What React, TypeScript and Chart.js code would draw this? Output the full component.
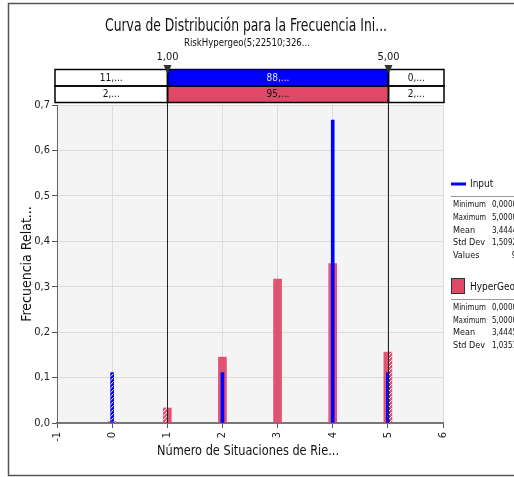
import React, { useEffect, useRef } from 'react';
import { Chart, registerables } from 'chart.js';

Chart.register(...registerables);

// ---------- data ----------
const categories = [0, 1, 2, 3, 4, 5];
const hyperGeoValues = [0.003, 0.033, 0.145, 0.317, 0.351, 0.156];
const inputValues = [0.111, 0, 0.111, 0, 0.667, 0.111];
const xMin = -1;
const xMax = 6;
const yMax = 0.7;
const yStep = 0.1;
const delimiters = [1, 5];
const delimiterLabels = ['1,00', '5,00'];
const inputBandLabels = ['11,...', '88,...', '0,...'];
const hyperGeoBandLabels = ['2,...', '95,...', '2,...'];
const inputStatNames = ['Minimum', 'Maximum', 'Mean', 'Std Dev', 'Values'];
const inputStatValues = ['0,0000', '5,0000', '3,4444', '1,5092', '9'];
const hyperGeoStatNames = ['Minimum', 'Maximum', 'Mean', 'Std Dev'];
const hyperGeoStatValues = ['0,0000', '5,0000', '3,4445', '1,0351'];
const titleText = 'Curva de Distribución para la Frecuencia Ini...';
const subtitleText = 'RiskHypergeo(5;22510;326...';
const xTitleText = 'Número de Situaciones de Rie...';
const yTitleText = 'Frecuencia Relat...';
const inputName = 'Input';
const hyperGeoName = 'HyperGeo';

const FONT = '"DejaVu Sans Condensed", "Liberation Sans Narrow", "DejaVu Sans", sans-serif';
const BLUE = '#0000ff';
const PINK = '#e04868';

function hatchRect(ctx: CanvasRenderingContext2D, l: number, t: number, r: number, b: number) {
  if (r - l <= 0.2 || b - t <= 0.2) return;
  ctx.save();
  ctx.beginPath();
  ctx.rect(l, t, r - l, b - t);
  ctx.clip();
  ctx.strokeStyle = 'rgba(255,255,255,0.95)';
  ctx.lineWidth = 1;
  ctx.beginPath();
  const h = b - t;
  for (let k = -h - 8; k < r - l + 8; k += 4) {
    ctx.moveTo(l + k, b);
    ctx.lineTo(l + k + h, t);
  }
  ctx.stroke();
  ctx.restore();
}

const decorPlugin = {
  id: 'decor',
  beforeDraw(chart: any) {
    const { ctx, chartArea: ca, width, height } = chart;
    ctx.save();
    ctx.fillStyle = '#ffffff';
    ctx.fillRect(0, 0, width, height);
    ctx.fillStyle = '#f4f4f4';
    ctx.fillRect(ca.left, ca.top, ca.right - ca.left, ca.bottom - ca.top);
    ctx.restore();
  },
  afterDatasetsDraw(chart: any) {
    const { ctx, chartArea: ca } = chart;
    const xs = chart.scales.x;
    const d0 = xs.getPixelForValue(delimiters[0]);
    const d1 = xs.getPixelForValue(delimiters[1]);
    const regions = [
      [ca.left, d0],
      [d1, ca.right],
    ];
    chart.data.datasets.forEach((_ds: any, i: number) => {
      const meta = chart.getDatasetMeta(i);
      meta.data.forEach((el: any) => {
        const { x, y, base, width } = el.getProps(['x', 'y', 'base', 'width'], true);
        const l = x - width / 2;
        const r = x + width / 2;
        regions.forEach(([a, b]) => {
          hatchRect(ctx, Math.max(l, a), Math.min(y, base), Math.min(r, b), Math.max(y, base));
        });
      });
    });
  },
  afterDraw(chart: any) {
    const { ctx, chartArea: ca } = chart;
    const xs = chart.scales.x;
    const d0 = xs.getPixelForValue(delimiters[0]);
    const d1 = xs.getPixelForValue(delimiters[1]);
    ctx.save();

    // outer frame
    ctx.strokeStyle = '#555';
    ctx.lineWidth = 1.5;
    ctx.strokeRect(8.5, 3.5, 530, 472);

    // titles
    ctx.fillStyle = '#111';
    ctx.textAlign = 'center';
    ctx.textBaseline = 'middle';
    ctx.font = `17px ${FONT}`;
    ctx.fillText(titleText, 246, 27, 282);
    ctx.font = `11px ${FONT}`;
    ctx.fillText(subtitleText, 247, 43, 126);

    // axis titles
    ctx.font = `14px ${FONT}`;
    ctx.fillText(xTitleText, 248, 451, 182);
    ctx.save();
    ctx.translate(27, (ca.top + ca.bottom) / 2);
    ctx.rotate(-Math.PI / 2);
    ctx.fillText(yTitleText, 0, 0, 126);
    ctx.restore();

    // delimiter vertical lines
    ctx.strokeStyle = '#222';
    ctx.lineWidth = 1;
    [d0, d1].forEach((px) => {
      const p = Math.round(px) + 0.5;
      ctx.beginPath();
      ctx.moveTo(p, 69);
      ctx.lineTo(p, ca.bottom);
      ctx.stroke();
    });

    // bands
    const xL = ca.left - 2;
    const xR = ca.right + 1;
    const rows = [
      { top: 69.5, bot: 86, fills: ['#ffffff', BLUE, '#ffffff'], labels: inputBandLabels, tcol: ['#111', '#e4e4ff', '#111'] },
      { top: 86, bot: 102.5, fills: ['#ffffff', PINK, '#ffffff'], labels: hyperGeoBandLabels, tcol: ['#111', '#111', '#111'] },
    ];
    const edges = [xL, Math.round(d0) + 0.5, Math.round(d1) + 0.5, xR];
    ctx.font = `10px ${FONT}`;
    rows.forEach((row) => {
      for (let k = 0; k < 3; k++) {
        const a = edges[k];
        const b = edges[k + 1];
        ctx.fillStyle = row.fills[k];
        ctx.fillRect(a, row.top, b - a, row.bot - row.top);
      }
    });
    ctx.strokeStyle = '#000';
    ctx.lineWidth = 1.5;
    rows.forEach((row) => {
      for (let k = 0; k < 3; k++) {
        const a = edges[k];
        const b = edges[k + 1];
        ctx.strokeRect(a, row.top, b - a, row.bot - row.top);
        ctx.fillStyle = row.tcol[k];
        ctx.fillText(row.labels[k], (a + b) / 2, (row.top + row.bot) / 2 + 0.5);
      }
    });

    // delimiter markers and labels
    [d0, d1].forEach((px, i) => {
      const p = Math.round(px) + 0.5;
      ctx.fillStyle = '#333';
      ctx.beginPath();
      ctx.moveTo(p - 4, 65);
      ctx.lineTo(p + 4, 65);
      ctx.lineTo(p, 74);
      ctx.closePath();
      ctx.fill();
      ctx.fillStyle = '#111';
      ctx.font = `11px ${FONT}`;
      ctx.fillText(delimiterLabels[i], p, 57);
    });

    // legend
    ctx.textBaseline = 'middle';
    ctx.strokeStyle = BLUE;
    ctx.lineWidth = 3;
    ctx.beginPath();
    ctx.moveTo(451, 184);
    ctx.lineTo(466, 184);
    ctx.stroke();
    ctx.font = `10px ${FONT}`;
    ctx.fillStyle = '#111';
    ctx.textAlign = 'left';
    ctx.fillText(inputName, 470, 184);
    ctx.strokeStyle = '#999';
    ctx.lineWidth = 1;
    ctx.beginPath();
    ctx.moveTo(451, 196.5);
    ctx.lineTo(514, 196.5);
    ctx.stroke();
    ctx.font = `9px ${FONT}`;
    const inY = [205, 218, 231, 243, 256];
    inputStatNames.forEach((n, i) => {
      ctx.textAlign = 'left';
      ctx.fillText(n, 453, inY[i], 33);
      ctx.textAlign = 'right';
      ctx.fillText(inputStatValues[i], 517, inY[i], 25);
    });

    ctx.fillStyle = PINK;
    ctx.fillRect(451, 278, 14, 16);
    ctx.strokeStyle = '#333';
    ctx.lineWidth = 1;
    ctx.strokeRect(451.5, 278.5, 13, 15);
    ctx.fillStyle = '#111';
    ctx.textAlign = 'left';
    ctx.font = `10px ${FONT}`;
    ctx.fillText(hyperGeoName, 470, 287);
    ctx.strokeStyle = '#999';
    ctx.beginPath();
    ctx.moveTo(451, 299.5);
    ctx.lineTo(514, 299.5);
    ctx.stroke();
    ctx.font = `9px ${FONT}`;
    const hgY = [308, 321, 333, 346];
    hyperGeoStatNames.forEach((n, i) => {
      ctx.textAlign = 'left';
      ctx.fillText(n, 453, hgY[i], 33);
      ctx.textAlign = 'right';
      ctx.fillText(hyperGeoStatValues[i], 517, hgY[i], 25);
    });

    ctx.restore();
  },
};

export default function App() {
  const ref = useRef<HTMLCanvasElement | null>(null);

  useEffect(() => {
    if (!ref.current) return;
    const inputPoints = categories
      .map((c, i) => ({ x: c, y: inputValues[i] }))
      .filter((p) => p.y > 0);
    const hyperPoints = categories.map((c, i) => ({ x: c, y: hyperGeoValues[i] }));

    const chart = new Chart(ref.current, {
      type: 'bar',
      data: {
        datasets: [
          {
            label: inputName,
            data: inputPoints,
            backgroundColor: BLUE,
            barThickness: 3,
            grouped: false,
            order: 0,
          } as any,
          {
            label: hyperGeoName,
            data: hyperPoints,
            backgroundColor: 'rgba(224,64,100,0.9)',
            barThickness: 8,
            grouped: false,
            order: 1,
          } as any,
        ],
      },
      options: {
        animation: false,
        responsive: false,
        devicePixelRatio: 1,
        layout: { padding: { left: 0, top: 105, right: 71, bottom: 0 } },
        plugins: {
          legend: { display: false },
          tooltip: { enabled: false },
          title: { display: false },
        },
        scales: {
          x: {
            type: 'linear',
            min: xMin,
            max: xMax,
            offset: false,
            afterFit: (s: any) => {
              s.height = 54;
            },
            ticks: {
              stepSize: 1,
              autoSkip: false,
              minRotation: 90,
              maxRotation: 90,
              padding: 4,
              color: '#222',
              font: { family: FONT, size: 11 },
              callback: (v: any) => String(v),
            },
            grid: {
              color: '#dcdcdc',
              offset: false,
              drawTicks: true,
              tickLength: 5,
              tickColor: '#555',
            },
            border: { color: '#777', width: 2 },
          },
          y: {
            min: 0,
            max: yMax,
            afterFit: (s: any) => {
              s.width = 57;
            },
            ticks: {
              stepSize: yStep,
              padding: 2,
              color: '#222',
              font: { family: FONT, size: 11 },
              callback: (v: any) => Number(v).toFixed(1).replace('.', ','),
            },
            grid: {
              color: '#dcdcdc',
              drawTicks: true,
              tickLength: 5,
              tickColor: '#555',
            },
            border: { color: '#666', width: 1 },
          },
        },
      } as any,
      plugins: [decorPlugin],
    });
    return () => chart.destroy();
  }, []);

  return (
    <div style={{ position: 'absolute', left: 0, top: 0, width: 514, height: 477 }}>
      <canvas ref={ref} width={514} height={477} style={{ display: 'block', width: 514, height: 477 }} />
    </div>
  );
}
